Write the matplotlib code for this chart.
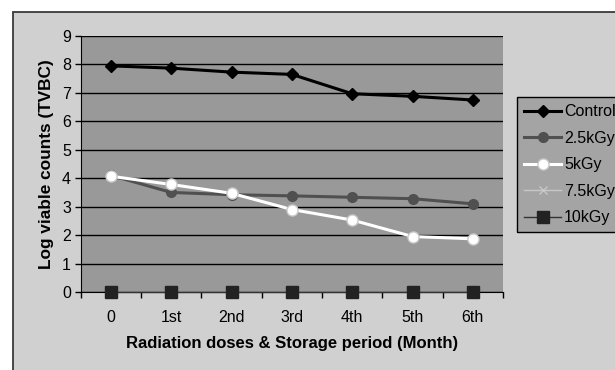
import matplotlib
matplotlib.use("Agg")
import matplotlib.pyplot as plt
from matplotlib.patches import Rectangle

plt.rcParams['font.family'] = ['Liberation Sans', 'DejaVu Sans']

categories = ["0", "1st", "2nd", "3rd", "4th", "5th", "6th"]
control = [7.95, 7.87, 7.73, 7.65, 6.97, 6.88, 6.75]
kgy25 = [4.10, 3.50, 3.42, 3.38, 3.33, 3.28, 3.10]
kgy5 = [4.07, 3.78, 3.47, 2.90, 2.53, 1.95, 1.87]
kgy75 = [0, 0, 0, 0, 0, 0, 0]
kgy10 = [0, 0, 0, 0, 0, 0, 0]
yticks = list(range(0, 10))

W, H = 615, 370
fig = plt.figure(figsize=(W / 100, H / 100), dpi=100)
fig.patch.set_facecolor('white')
# outer chart frame
frame = Rectangle((13 / W, -0.02), 1.05 - 13 / W, 1 - 12.5 / H + 0.02,
                  transform=fig.transFigure, facecolor='#d0d0d0',
                  edgecolor='#3a3a3a', linewidth=1.3, zorder=-5)
fig.patches.append(frame)

ax = fig.add_axes([80.7 / W, 1 - 292 / H, (503 - 80.7) / W, (292 - 36) / H])
ax.set_facecolor('#999999')
x = list(range(len(categories)))

ax.plot(x, control, color='black', lw=2.2, marker='D', ms=6, mfc='black', mec='black', label='Control', zorder=5)
ax.plot(x, kgy25, color='#505050', lw=2.2, marker='o', ms=7, mfc='#505050', mec='#505050', label='2.5kGy', zorder=4)
ax.plot(x, kgy5, color='white', lw=2.2, marker='o', ms=8, mfc='white', mec='#c8c8c8', label='5kGy', zorder=6)
ax.plot(x, kgy75, color='#c8c8c8', lw=1, marker='x', ms=6, label='7.5kGy', zorder=3)
ax.plot(x, kgy10, color='#333333', lw=1, marker='s', ms=8.5, mfc='#222222', mec='#222222',
        label='10kGy', zorder=7, clip_on=False)

ax.set_xlim(-0.5, 6.5)
ax.set_ylim(0, 9)
ax.set_yticks(yticks)
ax.set_yticklabels([str(t) for t in yticks], fontsize=11.5)
ax.set_xticks(x)
ax.set_xticklabels(categories, fontsize=11.5)
ax.set_xticks([i - 0.5 for i in range(len(categories) + 1)], minor=True)
ax.tick_params(axis='x', which='major', length=0, pad=13)
ax.tick_params(axis='x', which='minor', length=4, direction='out', width=1)
ax.tick_params(axis='y', length=4, direction='out', width=1, pad=3)
ax.grid(axis='y', color='black', lw=1, zorder=1)
ax.set_axisbelow(True)
for s in ['top', 'right']:
    ax.spines[s].set_visible(False)
ax.spines['left'].set_color('black')
ax.spines['bottom'].set_color('black')

ax.set_ylabel('Log viable counts (TVBC)', fontsize=12.4, fontweight='bold', labelpad=6)
ax.set_xlabel('Radiation doses & Storage period (Month)', fontsize=12, fontweight='bold', labelpad=8)

leg = fig.legend(loc='upper left', bbox_to_anchor=(517 / W, 1 - 97 / H), fontsize=11.5,
                 frameon=True, fancybox=False, edgecolor='black', facecolor='#a4a4a4',
                 framealpha=1, handlelength=2.3, handletextpad=0.2, borderpad=0.45,
                 labelspacing=0.72, borderaxespad=0)
leg.get_frame().set_linewidth(1)

fig.savefig('out.png', dpi=100)
